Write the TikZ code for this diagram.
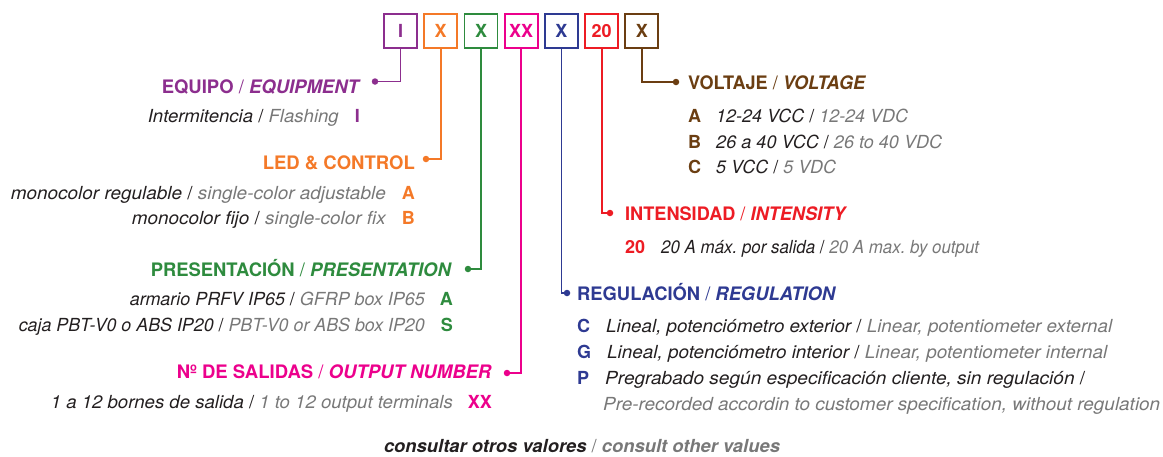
\documentclass[tikz,border=0pt]{standalone}
\usepackage{graphicx}
\usepackage{fontspec}
\setmainfont{TeX Gyre Heros}
\definecolor{cpur}{RGB}{140,46,142}
\definecolor{cora}{RGB}{244,121,40}
\definecolor{cgre}{RGB}{46,139,62}
\definecolor{cpin}{RGB}{236,0,140}
\definecolor{cblu}{RGB}{46,58,146}
\definecolor{cred}{RGB}{237,28,36}
\definecolor{cbro}{RGB}{107,62,18}
\definecolor{dtext}{RGB}{35,31,32}
\definecolor{gtext}{RGB}{120,120,120}
\newcommand\hsl{{\mdseries/}}
\newcommand\bsl{{\upshape/}}
\newcommand\en[1]{\textcolor{gtext}{#1}}
\newcommand\fitw[2]{\resizebox{#1pt}{\height}{#2}}
\frenchspacing
\begin{document}
\begin{tikzpicture}[x=1pt,y=-1pt,
  codebox/.style={draw, line width=1.8pt, minimum width=33pt, minimum height=34pt, inner sep=0pt,
     font=\fontsize{18}{20}\selectfont\bfseries},
  head/.style={inner sep=0pt, font=\fontsize{18.6}{20}\selectfont\frenchspacing\bfseries},
  body/.style={inner sep=0pt, text=dtext, font=\fontsize{18}{22}\selectfont\frenchspacing\itshape},
  code/.style={inner sep=0pt, font=\fontsize{18}{20}\selectfont\bfseries},
  dot/.style={circle, fill, inner sep=0pt, minimum size=6.5pt},
  conn/.style={line width=1.8pt}]
\useasboundingbox (0,0) rectangle (1163,456);
% top boxes
\node[codebox, draw=cpur, text=cpur] (b1) at (400.5,31) {I};
\node[codebox, draw=cora, text=cora] (b2) at (440.7,31) {X};
\node[codebox, draw=cgre, text=cgre] (b3) at (481,31) {X};
\node[codebox, draw=cpin, text=cpin] (b4) at (521.2,31) {XX};
\node[codebox, draw=cblu, text=cblu] (b5) at (561.4,31) {X};
\node[codebox, draw=cred, text=cred] (b6) at (601.6,31) {20};
\node[codebox, draw=cbro, text=cbro] (b7) at (641.8,31) {X};
% dots
\node[dot, cpur] (d1) at (375,81.5) {};
\node[dot, cora] (d2) at (426,159) {};
\node[dot, cgre] (d3) at (468,269) {};
\node[dot, cpin] (d4) at (507,373) {};
\node[dot, cblu] (d5) at (567,293) {};
\node[dot, cred] (d6) at (610,213) {};
\node[dot, cbro] (d7) at (676,82) {};
% connectors
\draw[conn, cpur] (b1.south) |- (d1.center);
\draw[conn, cora] (b2.south) |- (d2.center);
\draw[conn, cgre] (b3.south) |- (d3.center);
\draw[conn, cpin] (b4.south) |- (d4.center);
\draw[conn, cblu] (b5.south) |- (d5.center);
\draw[conn, cred] (b6.south) |- (d6.center);
\draw[conn, cbro] (b7.south) |- (d7.center);
% EQUIPO
\node[head, text=cpur, anchor=base east] (h1) at (361,93) {\fitw{199}{EQUIPO \hsl{} \textit{EQUIPMENT}}};
\node[code, text=cpur, anchor=base east] (c1a) at (360,122) {I};
\node[body, anchor=base east] (t1a) at (339,122) {\fitw{191}{Intermitencia \bsl{} \en{Flashing}}};
% LED
\node[head, text=cora, anchor=base east] (h2) at (415,169) {\fitw{152}{LED \& CONTROL}};
\node[code, text=cora, anchor=base east] (c2a) at (415,199) {A};
\node[body, anchor=base east] (t2a) at (386,199) {\fitw{375}{monocolor regulable \bsl{} \en{single-color adjustable}}};
\node[code, text=cora, anchor=base east] (c2b) at (415,224) {B};
\node[body, anchor=base east] (t2b) at (386,224) {\fitw{254}{monocolor fijo \bsl{} \en{single-color fix}}};
% PRESENTACION
\node[head, text=cgre, anchor=base east] (h3) at (452,276) {\fitw{301}{PRESENTACIÓN \hsl{} \textit{PRESENTATION}}};
\node[code, text=cgre, anchor=base east] (c3a) at (453,305) {A};
\node[body, anchor=base east] (t3a) at (425,305) {\fitw{295}{armario PRFV IP65 \bsl{} \en{GFRP box IP65}}};
\node[code, text=cgre, anchor=base east] (c3b) at (453,331) {S};
\node[body, anchor=base east] (t3b) at (425,331) {\fitw{406}{caja PBT-V0 o ABS IP20 \bsl{} \en{PBT-V0 or ABS box IP20}}};
% SALIDAS
\node[head, text=cpin, anchor=base east] (h4) at (492,378) {\fitw{315}{Nº DE SALIDAS \hsl{} \textit{OUTPUT NUMBER}}};
\node[code, text=cpin, anchor=base east] (c4a) at (492,408) {XX};
\node[body, anchor=base east] (t4a) at (453,408) {\fitw{402}{1 a 12 bornes de salida \bsl{} \en{1 to 12 output terminals}}};
% VOLTAJE
\node[head, text=cbro, anchor=base west] (h7) at (688,89) {\fitw{178}{VOLTAJE \hsl{} \textit{VOLTAGE}}};
\node[code, text=cbro, anchor=base west] (c7a) at (688,122) {A};
\node[body, anchor=base west] (t7a) at (716,122) {\fitw{192}{12-24 VCC \bsl{} \en{12-24 VDC}}};
\node[code, text=cbro, anchor=base west] (c7b) at (688,148) {B};
\node[body, anchor=base west] (t7b) at (716,148) {\fitw{226}{26 a 40 VCC \bsl{} \en{26 to 40 VDC}}};
\node[code, text=cbro, anchor=base west] (c7c) at (688,173) {C};
\node[body, anchor=base west] (t7c) at (716,173) {\fitw{120}{5 VCC \bsl{} \en{5 VDC}}};
% INTENSIDAD
\node[head, text=cred, anchor=base west] (h6) at (625,220) {\fitw{222}{INTENSIDAD \hsl{} \textit{INTENSITY}}};
\node[code, text=cred, anchor=base west] (c6a) at (625,253) {20};
\node[body, anchor=base west] (t6a) at (661,253) {\fitw{318}{20 A máx. por salida \bsl{} \en{20 A max. by output}}};
% REGULACION
\node[head, text=cblu, anchor=base west] (h5) at (577,300) {\fitw{259}{REGULACIÓN \hsl{} \textit{REGULATION}}};
\node[code, text=cblu, anchor=base west] (c5a) at (577,332) {C};
\node[body, anchor=base west] (t5a) at (606,332) {\fitw{506}{Lineal, potenciómetro exterior \bsl{} \en{Linear, potentiometer external}}};
\node[code, text=cblu, anchor=base west] (c5b) at (577,358) {G};
\node[body, anchor=base west] (t5b) at (607,358) {\fitw{500}{Lineal, potenciómetro interior \bsl{} \en{Linear, potentiometer internal}}};
\node[code, text=cblu, anchor=base west] (c5c) at (577,384) {P};
\node[body, anchor=base west] (t5c) at (605,384) {\fitw{480}{Pregrabado según especificación cliente, sin regulación \bsl}};
\node[body, anchor=base west, text=gtext] (t5d) at (603,410) {\fitw{557}{Pre-recorded accordin to customer specification, without regulation}};
% bottom
\node[inner sep=0pt, anchor=base, text=dtext, font=\fontsize{18}{20}\selectfont\frenchspacing\bfseries\itshape] (foot) at (582,452)
  {\fitw{396}{consultar otros valores {\color{gtext}\mdseries\upshape/} \en{consult other values}}};
\end{tikzpicture}
\end{document}
